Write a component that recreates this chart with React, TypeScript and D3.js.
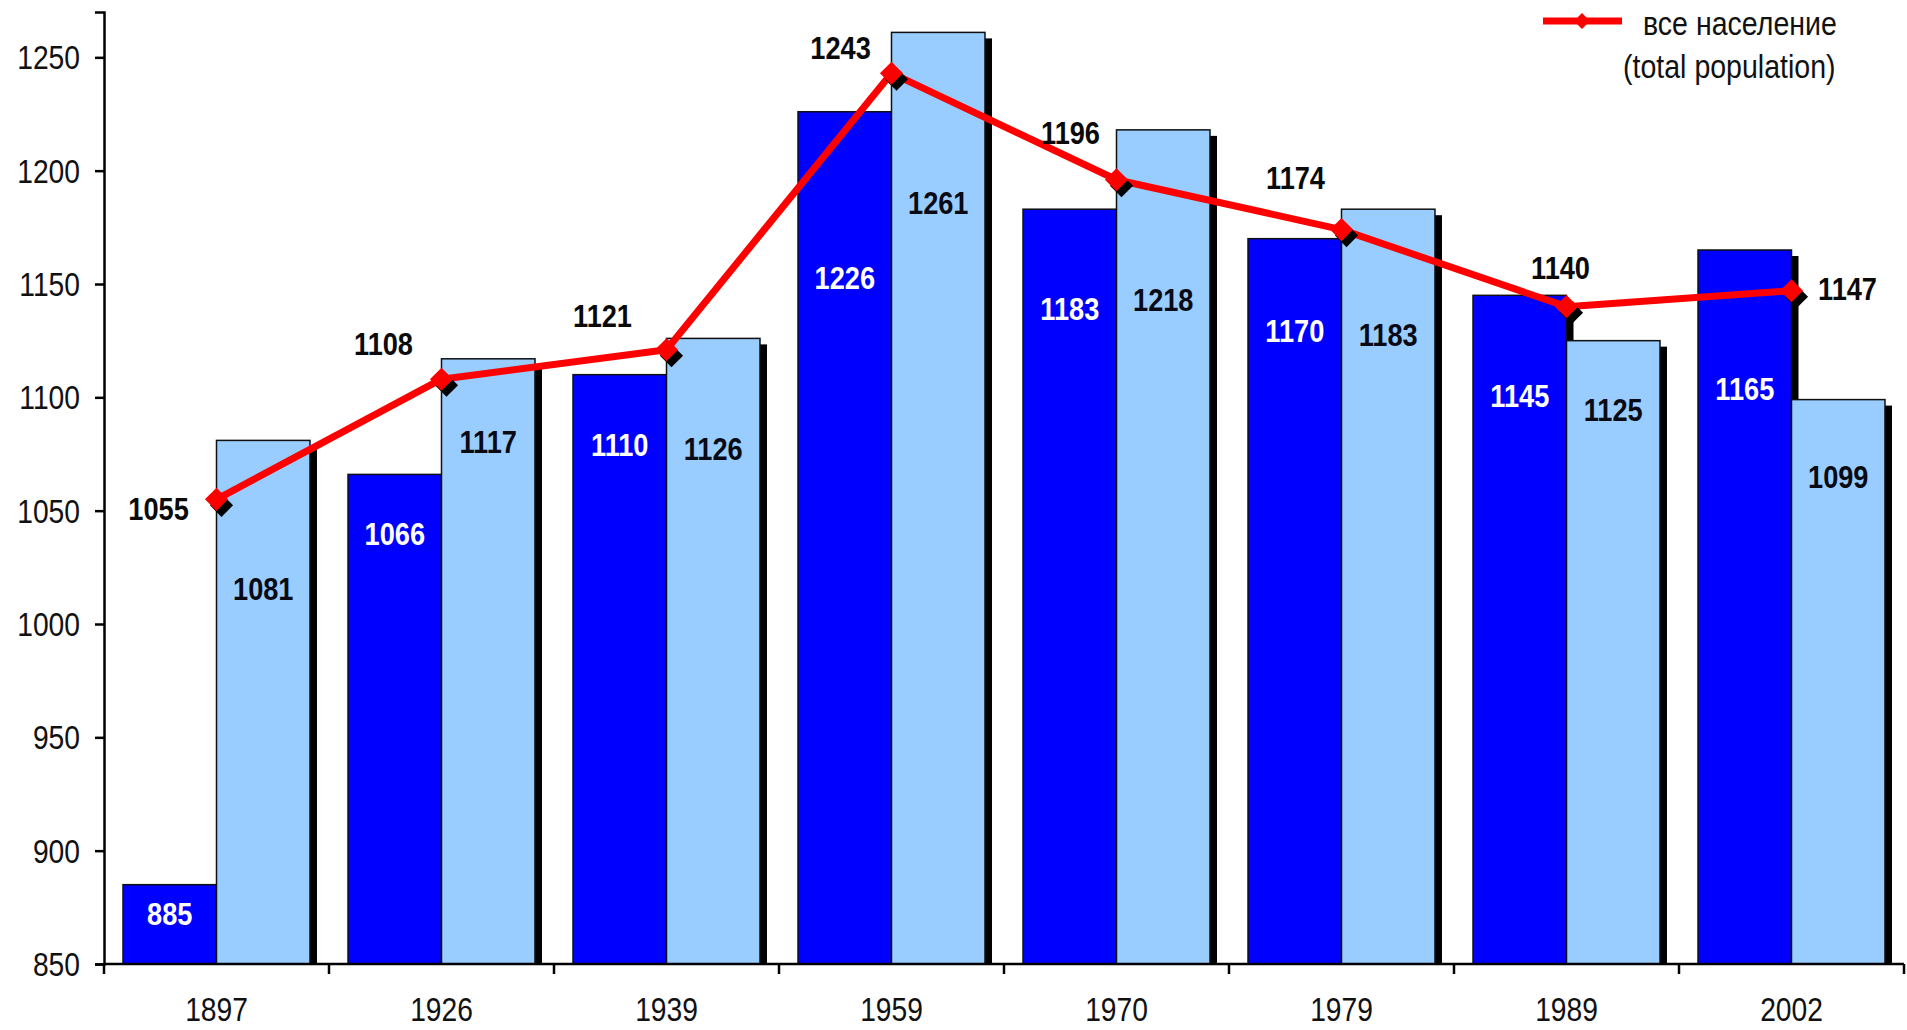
import React, { useEffect, useRef } from 'react';
import * as d3 from 'd3';

// census years
const YEARS = ['1897', '1926', '1939', '1959', '1970', '1979', '1989', '2002'];
// first bar series (dark blue)
const SERIES_A = [885, 1066, 1110, 1226, 1183, 1170, 1145, 1165];
// second bar series (light blue)
const SERIES_B = [1081, 1117, 1126, 1261, 1218, 1183, 1125, 1099];
// line: все население (total population)
const TOTAL = [1055, 1108, 1121, 1243, 1196, 1174, 1140, 1147];
const Y_TICKS = [850, 900, 950, 1000, 1050, 1100, 1150, 1200, 1250];
const LEGEND_LINES = ['все население', '(total population)'];

// hand-placed label offsets (px), as in the original slide
const LABEL_A_DY = [29, 59, 70, 166, 99, 92, 100, 139];
const LABEL_B_DY = [148, 83, 110, 170, 170, 125, 69, 77];
const LABEL_T_DX = [-58, -58, -64, -51, -46, -46, -6, 56];
const LABEL_T_DY = [9, -36, -34, -26, -47, -52, -39, -2];

const W = 1907;
const H = 1030;
const FONT = '"Liberation Sans", Arial, sans-serif';
const SQUEEZE = 0.83; // the slide's text is horizontally condensed
const DARK = '#0000ff';
const LIGHT = '#99ccff';
const RED = '#ff0000';

type TextSel = d3.Selection<SVGTextElement, any, any, any>;

// place text at (x, y) with a horizontal squeeze
const squeeze = (sel: TextSel, fx: (d: any, i: number) => number, fy: (d: any, i: number) => number, sx = SQUEEZE) =>
  sel
    .attr('x', 0)
    .attr('y', 0)
    .attr('transform', (d, i) => `translate(${fx(d, i)},${fy(d, i)}) scale(${sx},1)`);

export default function App() {
  const svgRef = useRef<SVGSVGElement>(null);

  useEffect(() => {
    if (!svgRef.current) return;
    const svg = d3.select(svgRef.current);
    svg.selectAll('*').remove();

    const left = 104;
    const right = 1904;
    const top = 12;
    const bottom = 964;

    const x = d3.scaleBand<string>()
      .domain(YEARS)
      .range([left, right])
      .paddingInner(0.169)
      .paddingOuter(0.0845);
    const inner = d3.scaleBand<string>()
      .domain(['a', 'b'])
      .range([0, x.bandwidth()]);
    const y = d3.scaleLinear().domain([850, 1270]).range([bottom, top]);
    const center = (yr: string) => left + (YEARS.indexOf(yr) + 0.5) * x.step();

    svg.append('rect').attr('width', W).attr('height', H).attr('fill', '#fff');

    // bars with offset shadows
    const drawSeries = (vals: number[], key: 'a' | 'b', fill: string) => {
      const g = svg.append('g');
      g.selectAll('rect.shadow')
        .data(vals)
        .enter()
        .append('rect')
        .attr('x', (_, i) => (x(YEARS[i]) as number) + (inner(key) as number) + 7)
        .attr('y', d => y(d) + 6)
        .attr('width', inner.bandwidth())
        .attr('height', d => bottom - y(d) - 6)
        .attr('fill', '#000');
      g.selectAll('rect.bar')
        .data(vals)
        .enter()
        .append('rect')
        .attr('x', (_, i) => (x(YEARS[i]) as number) + (inner(key) as number))
        .attr('y', d => y(d))
        .attr('width', inner.bandwidth())
        .attr('height', d => bottom - y(d))
        .attr('fill', fill)
        .attr('stroke', '#101010')
        .attr('stroke-width', 1.5);
    };
    drawSeries(SERIES_A, 'a', DARK);
    drawSeries(SERIES_B, 'b', LIGHT);

    // bar labels
    const labA = svg.append('g')
      .selectAll('text')
      .data(SERIES_A)
      .enter()
      .append('text')
      .attr('text-anchor', 'middle')
      .attr('dominant-baseline', 'central')
      .attr('font-family', FONT)
      .attr('font-weight', 'bold')
      .attr('font-size', 32)
      .attr('fill', '#fff')
      .text(d => d);
    squeeze(labA as TextSel,
      (_, i) => (x(YEARS[i]) as number) + (inner('a') as number) + inner.bandwidth() / 2,
      (d, i) => y(d) + LABEL_A_DY[i], 0.85);

    const labB = svg.append('g')
      .selectAll('text')
      .data(SERIES_B)
      .enter()
      .append('text')
      .attr('text-anchor', 'middle')
      .attr('dominant-baseline', 'central')
      .attr('font-family', FONT)
      .attr('font-weight', 'bold')
      .attr('font-size', 32)
      .attr('fill', '#0a0a14')
      .text(d => d);
    squeeze(labB as TextSel,
      (_, i) => (x(YEARS[i]) as number) + (inner('b') as number) + inner.bandwidth() / 2,
      (d, i) => y(d) + LABEL_B_DY[i], 0.85);

    // axes
    const yAxis = d3.axisLeft(y).tickValues(Y_TICKS).tickSize(9).tickPadding(15).tickFormat(d3.format('d'));
    svg.append('g')
      .attr('transform', `translate(${left},0)`)
      .call(yAxis)
      .call(g => g.select('.domain').attr('stroke', '#000').attr('stroke-width', 2.5))
      .call(g => g.selectAll('.tick line').attr('stroke', '#000').attr('stroke-width', 2.5))
      .call(g => g.selectAll('.tick text')
        .attr('fill', '#111')
        .attr('font-family', FONT)
        .attr('font-size', 34)
        .attr('dy', null)
        .attr('dominant-baseline', 'central')
        .attr('x', 0)
        .attr('transform', `translate(-24,0) scale(${SQUEEZE},1)`));

    svg.append('line')
      .attr('x1', left).attr('x2', right)
      .attr('y1', bottom).attr('y2', bottom)
      .attr('stroke', '#000').attr('stroke-width', 2.5);
    svg.append('g')
      .selectAll('line')
      .data(d3.range(YEARS.length + 1))
      .enter()
      .append('line')
      .attr('x1', i => left + i * x.step())
      .attr('x2', i => left + i * x.step())
      .attr('y1', bottom)
      .attr('y2', bottom + 10)
      .attr('stroke', '#000')
      .attr('stroke-width', 2.5);
    const xLabels = svg.append('g')
      .selectAll('text')
      .data(YEARS)
      .enter()
      .append('text')
      .attr('text-anchor', 'middle')
      .attr('dominant-baseline', 'central')
      .attr('font-family', FONT)
      .attr('font-size', 34)
      .attr('fill', '#111')
      .text(d => d);
    squeeze(xLabels as TextSel, d => center(d), () => bottom + 46);

    // total population line
    const line = d3.line<number>()
      .x((_, i) => center(YEARS[i]))
      .y(d => y(d));
    svg.append('path')
      .datum(TOTAL)
      .attr('d', line)
      .attr('fill', 'none')
      .attr('stroke', RED)
      .attr('stroke-width', 7)
      .attr('stroke-linejoin', 'round');

    const diamond = d3.symbol().type(d3.symbolDiamond2).size(340);
    const markers = svg.append('g');
    markers.selectAll('path.shadow')
      .data(TOTAL)
      .enter()
      .append('path')
      .attr('d', diamond)
      .attr('transform', (d, i) => `translate(${center(YEARS[i]) + 5},${y(d) + 6})`)
      .attr('fill', '#000');
    markers.selectAll('path.mark')
      .data(TOTAL)
      .enter()
      .append('path')
      .attr('d', diamond)
      .attr('transform', (d, i) => `translate(${center(YEARS[i])},${y(d)})`)
      .attr('fill', RED);

    const labT = svg.append('g')
      .selectAll('text')
      .data(TOTAL)
      .enter()
      .append('text')
      .attr('text-anchor', 'middle')
      .attr('dominant-baseline', 'central')
      .attr('font-family', FONT)
      .attr('font-weight', 'bold')
      .attr('font-size', 32)
      .attr('fill', '#0a0a0a')
      .text(d => d);
    squeeze(labT as TextSel,
      (_, i) => center(YEARS[i]) + LABEL_T_DX[i],
      (d, i) => y(d) + LABEL_T_DY[i], 0.85);

    // legend
    const lg = svg.append('g');
    lg.append('line')
      .attr('x1', 1543).attr('x2', 1622)
      .attr('y1', 21).attr('y2', 21)
      .attr('stroke', RED).attr('stroke-width', 7);
    lg.append('path')
      .attr('d', d3.symbol().type(d3.symbolDiamond2).size(160))
      .attr('transform', 'translate(1582,21)')
      .attr('fill', RED);
    const legendText = lg.selectAll('text')
      .data(LEGEND_LINES)
      .enter()
      .append('text')
      .attr('font-family', FONT)
      .attr('font-size', 34)
      .attr('fill', '#111')
      .text(d => d);
    squeeze(legendText as TextSel, (_, i) => (i === 0 ? 1643 : 1623), (_, i) => (i === 0 ? 35 : 78), 0.84);
  }, []);

  return (
    <svg
      ref={svgRef}
      width={W}
      height={H}
      style={{ position: 'absolute', left: 0, top: 0, display: 'block' }}
    />
  );
}
